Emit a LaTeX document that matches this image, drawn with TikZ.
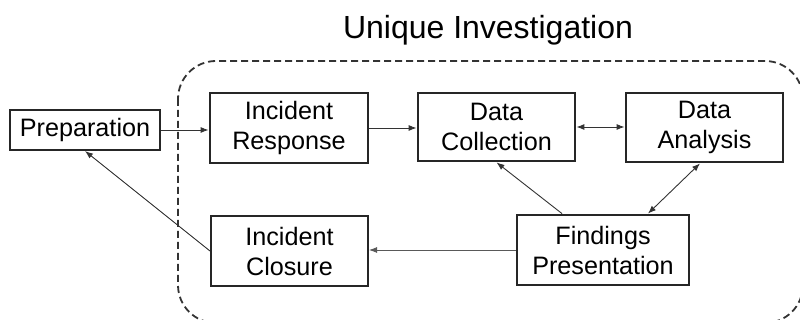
\documentclass[tikz,border=0pt]{standalone}
\usepackage{fontspec}
\setmainfont{Liberation Sans}
\usetikzlibrary{arrows.meta}
\begin{document}
\begin{tikzpicture}[x=1pt,y=-1pt,
  box/.style={draw=black!85, line width=2pt, align=center, inner sep=0pt,
    font=\fontsize{25.2}{30}\selectfont},
  boxthick/.style={box, line width=2.8pt},
  conn/.style={draw=black!80, line width=0.9pt, -{Latex[length=8pt,width=6pt]}},
  connboth/.style={conn, {Latex[length=8pt,width=6pt]}-{Latex[length=8pt,width=6pt]}}
]
\useasboundingbox (0,0) rectangle (800,320);
\begin{scope}
\clip (0,0) rectangle (800,320);
\draw[black!80, line width=1.8pt, dash pattern=on 7pt off 4pt, rounded corners=38pt]
  (178,61) rectangle (803,323);
\end{scope}
\node (title) at (488,30) {\fontsize{32}{38}\selectfont Unique Investigation};
\node[box, minimum width=150, minimum height=40] (prep) at (85,130) {Preparation};
\node[boxthick, minimum width=158, minimum height=70] (ir) at (289,128) {Incident\\Response};
\node[boxthick, minimum width=157, minimum height=68] (dc) at (496.5,127) {Data\\Collection};
\node[boxthick, minimum width=157, minimum height=69] (da) at (704.5,127.5) {Data\\Analysis};
\node[boxthick, minimum width=172, minimum height=70] (fp) at (603,250) {Findings\\Presentation};
\node[box, minimum width=157, minimum height=70] (ic) at (289.5,251) {Incident\\Closure};
\draw[conn] (prep.east) -- (prep.east -| ir.west);
\draw[conn] (ir.east) -- (ir.east -| dc.west);
\draw[connboth] (dc.east) -- (dc.east -| da.west);
\draw[conn] ([xshift=-41pt]fp.north) -- (dc.south);
\draw[connboth] ([xshift=45pt]fp.north) -- ([xshift=-4.5pt]da.south);
\draw[conn, draw=black!65] (fp.west) -- (fp.west -| ic.east);
\draw[conn] (ic.west) -- (prep.south);
\end{tikzpicture}
\end{document}
